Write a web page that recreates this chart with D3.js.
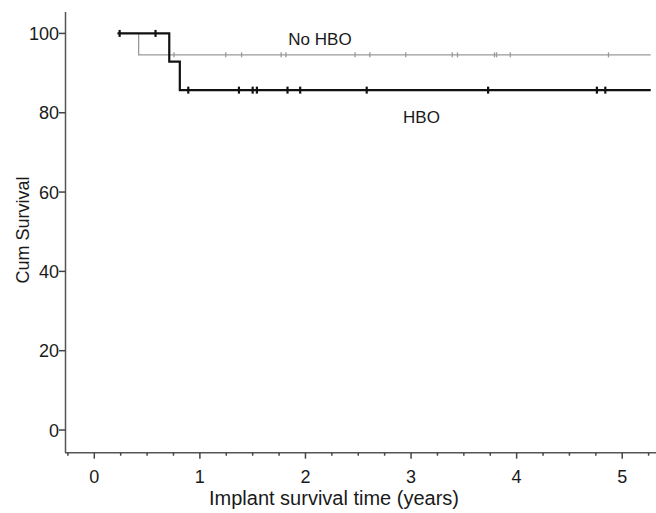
<!DOCTYPE html>
<html>
<head>
<meta charset="utf-8">
<script src="https://cdn.jsdelivr.net/npm/d3@7"></script>
<style>
  body { margin: 0; background: #fff; }
  text { font-family: "Liberation Sans", Arial, sans-serif; fill: #1a1a1a; }
</style>
</head>
<body>
<div id="chart"></div>
<script>
// survival curves, step vertices (years, cum survival %)
var hboTimes = [0.22, 0.71, 0.81, 5.27];
var hboSurv  = [100, 92.9, 85.7, 85.7];
var noHboTimes = [0.22, 0.42, 5.27];
var noHboSurv  = [100, 94.6, 94.6];

// censored observations
var hboCensor   = [0.24, 0.58, 0.89, 1.37, 1.50, 1.54, 1.83, 1.95, 2.58, 3.73, 4.76, 4.84];
var noHboCensor = [0.755, 1.245, 1.395, 1.77, 1.815, 2.47, 2.61, 2.95, 3.39, 3.44, 3.79, 3.81, 3.94, 4.87];

var xTicks = [0, 1, 2, 3, 4, 5];
var yTicks = [0, 20, 40, 60, 80, 100];

var w = 656, h = 513;

var svg = d3.select('#chart')
    .append('svg')
    .attr('width', w)
    .attr('height', h);

var x = d3.scaleLinear().domain([-0.268, 5.32]).range([66, 656]);
var y = d3.scaleLinear().domain([-5.72, 105.4]).range([452.7, 12]);

// axes
var xAxis = svg.append('g')
    .attr('transform', 'translate(0,452.7)');
xAxis.append('line')
    .attr('x1', 65).attr('x2', 656)
    .attr('stroke', '#555').attr('stroke-width', 1.5);
xAxis.selectAll('line.minor')
    .data(d3.range(-1, 22).map(function (i) { return i * 0.25; }))
    .enter().append('line')
    .attr('class', 'minor')
    .attr('x1', function (d) { return x(d); })
    .attr('x2', function (d) { return x(d); })
    .attr('y1', 0)
    .attr('y2', function (d) { return xTicks.indexOf(d) >= 0 ? 6 : 3; })
    .attr('stroke', '#444').attr('stroke-width', 1.5);
xAxis.selectAll('text')
    .data(xTicks)
    .enter().append('text')
    .attr('x', function (d) { return x(d); })
    .attr('y', 30)
    .attr('text-anchor', 'middle')
    .style('font-size', '18px')
    .text(function (d) { return d; });

var yAxis = svg.append('g');
yAxis.append('line')
    .attr('x1', 65.5).attr('x2', 65.5)
    .attr('y1', 12).attr('y2', 452.7)
    .attr('stroke', '#555').attr('stroke-width', 1.5);
yAxis.selectAll('line.tick')
    .data(yTicks)
    .enter().append('line')
    .attr('class', 'tick')
    .attr('x1', 59).attr('x2', 65.5)
    .attr('y1', function (d) { return y(d); })
    .attr('y2', function (d) { return y(d); })
    .attr('stroke', '#444').attr('stroke-width', 1.5);
yAxis.selectAll('text')
    .data(yTicks)
    .enter().append('text')
    .attr('x', 59)
    .attr('y', function (d) { return y(d) + 6.5; })
    .attr('text-anchor', 'end')
    .style('font-size', '18px')
    .text(function (d) { return d; });

// axis titles
svg.append('text')
    .attr('transform', 'translate(29,230) rotate(-90)')
    .attr('text-anchor', 'middle')
    .style('font-size', '18px')
    .text('Cum Survival');
svg.append('text')
    .attr('x', 334).attr('y', 505)
    .attr('text-anchor', 'middle')
    .style('font-size', '20px')
    .text('Implant survival time (years)');

// curves
var line = d3.line()
    .x(function (d) { return x(d[0]); })
    .y(function (d) { return y(d[1]); })
    .curve(d3.curveStepAfter);

function survAt(times, surv, t) {
    var i = d3.bisectRight(times, t) - 1;
    return surv[Math.max(0, i)];
}

function drawCurve(times, surv, censor, color, width, mark) {
    svg.append('path')
        .datum(d3.zip(times, surv))
        .attr('d', line)
        .attr('fill', 'none')
        .attr('stroke', color)
        .attr('stroke-width', width);
    svg.append('g').selectAll('line')
        .data(censor)
        .enter().append('line')
        .attr('x1', function (d) { return x(d); })
        .attr('x2', function (d) { return x(d); })
        .attr('y1', function (d) { return y(survAt(times, surv, d)) - mark; })
        .attr('y2', function (d) { return y(survAt(times, surv, d)) + mark; })
        .attr('stroke', color)
        .attr('stroke-width', width);
}

drawCurve(noHboTimes, noHboSurv, noHboCensor, '#999', 1.3, 2.5);
drawCurve(hboTimes, hboSurv, hboCensor, '#111', 2.2, 3.5);

// group labels
svg.append('text')
    .attr('x', 320).attr('y', 44.5)
    .attr('text-anchor', 'middle')
    .style('font-size', '17px')
    .text('No HBO');
svg.append('text')
    .attr('x', 421.5).attr('y', 123)
    .attr('text-anchor', 'middle')
    .style('font-size', '17px')
    .text('HBO');
</script>
</body>
</html>
